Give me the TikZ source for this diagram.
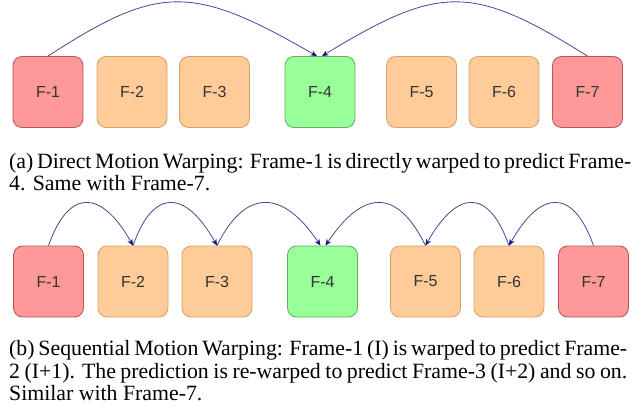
\documentclass[tikz,border=0pt]{standalone}
\usepackage{fontspec}
\setmainfont{Liberation Serif}
\newfontfamily\boxfont{Liberation Sans}
\usetikzlibrary{arrows.meta}
\definecolor{redfill}{HTML}{FF9999}
\definecolor{redline}{HTML}{B85450}
\definecolor{orgfill}{HTML}{FFCC99}
\definecolor{orgline}{HTML}{D9A066}
\definecolor{grnfill}{HTML}{99FF99}
\definecolor{grnline}{HTML}{5FAF5F}
\definecolor{arc}{RGB}{70,70,150}
\definecolor{tip}{RGB}{20,20,130}
\definecolor{lbl}{HTML}{333333}
\tikzset{
  frame/.style={rounded corners=9pt, minimum width=70pt, minimum height=71pt, line width=0.8pt, inner sep=0pt,
    font=\boxfont\fontsize{16}{18}\selectfont, text=lbl},
  redbox/.style={frame, fill=redfill, draw=redline},
  orgbox/.style={frame, fill=orgfill, draw=orgline},
  grnbox/.style={frame, fill=grnfill, draw=grnline},
  warp/.style={draw=arc, line width=0.8pt, -{Stealth[length=6.5pt,width=5.5pt,color=tip,fill=tip]}},
  captext/.style={anchor=base west, inner sep=0pt, font=\fontsize{21.8}{22}\selectfont},
}
\begin{document}
\begin{tikzpicture}[x=1pt,y=-1pt]
\useasboundingbox (0,0) rectangle (634,412);
% top row
\node[redbox] (a1) at (48,92) {F-1};
\node[orgbox] (a2) at (132,92) {F-2};
\node[orgbox] (a3) at (214.5,92) {F-3};
\node[grnbox] (a4) at (320,92) {F-4};
\node[orgbox] (a5) at (421.5,92) {F-5};
\node[orgbox] (a6) at (504,92) {F-6};
\node[redbox] (a7) at (587.5,92) {F-7};
\coordinate (a4l) at ([xshift=-3pt]a4.north);
\coordinate (a4r) at ([xshift=2pt]a4.north);
\draw[warp] (a1.north) .. controls +(111,-72) and +(-125,-72) .. (a4l);
\draw[warp] (a7.north) .. controls +(-115,-72) and +(118,-72) .. (a4r);
% caption a
\node[captext] (ca1) at (9,168) {\makebox[618pt][s]{(a) Direct Motion Warping: Frame-1 is directly warped to predict Frame-}};
\node[captext] (ca2) at (9,190) {4. Same with Frame-7.};
% bottom row
\node[redbox] (b1) at (48.5,281.5) {F-1};
\node[orgbox] (b2) at (133,281.5) {F-2};
\node[orgbox] (b3) at (217,281.5) {F-3};
\node[grnbox] (b4) at (322.5,281.5) {F-4};
\node[orgbox] (b5) at (425.5,281.5) {F-5};
\node[orgbox] (b6) at (509,281.5) {F-6};
\node[redbox] (b7) at (593.5,281.5) {F-7};
\coordinate (b4l) at ([xshift=-2pt]b4.north);
\coordinate (b4r) at ([xshift=3pt]b4.north);
\draw[warp] (b1.north) .. controls +(20,-57) and +(-32,-57) .. (b2.north);
\draw[warp] (b2.north) .. controls +(20,-57) and +(-32,-57) .. (b3.north);
\draw[warp] (b3.north) .. controls +(28,-57) and +(-38,-57) .. (b4l);
\draw[warp] (b5.north) .. controls +(-28,-57) and +(38,-57) .. (b4r);
\draw[warp] (b6.north) .. controls +(-20,-57) and +(32,-57) .. (b5.north);
\draw[warp] (b7.north) .. controls +(-20,-57) and +(32,-57) .. (b6.north);
% caption b
\node[captext] (cb1) at (9,355) {\makebox[618pt][s]{(b) Sequential Motion Warping: Frame-1 (I) is warped to predict Frame-}};
\node[captext] (cb2) at (9,378) {\makebox[618pt][s]{2 (I+1). The prediction is re-warped to predict Frame-3 (I+2) and so on.}};
\node[captext] (cb3) at (9,400) {Similar with Frame-7.};
\end{tikzpicture}
\end{document}
